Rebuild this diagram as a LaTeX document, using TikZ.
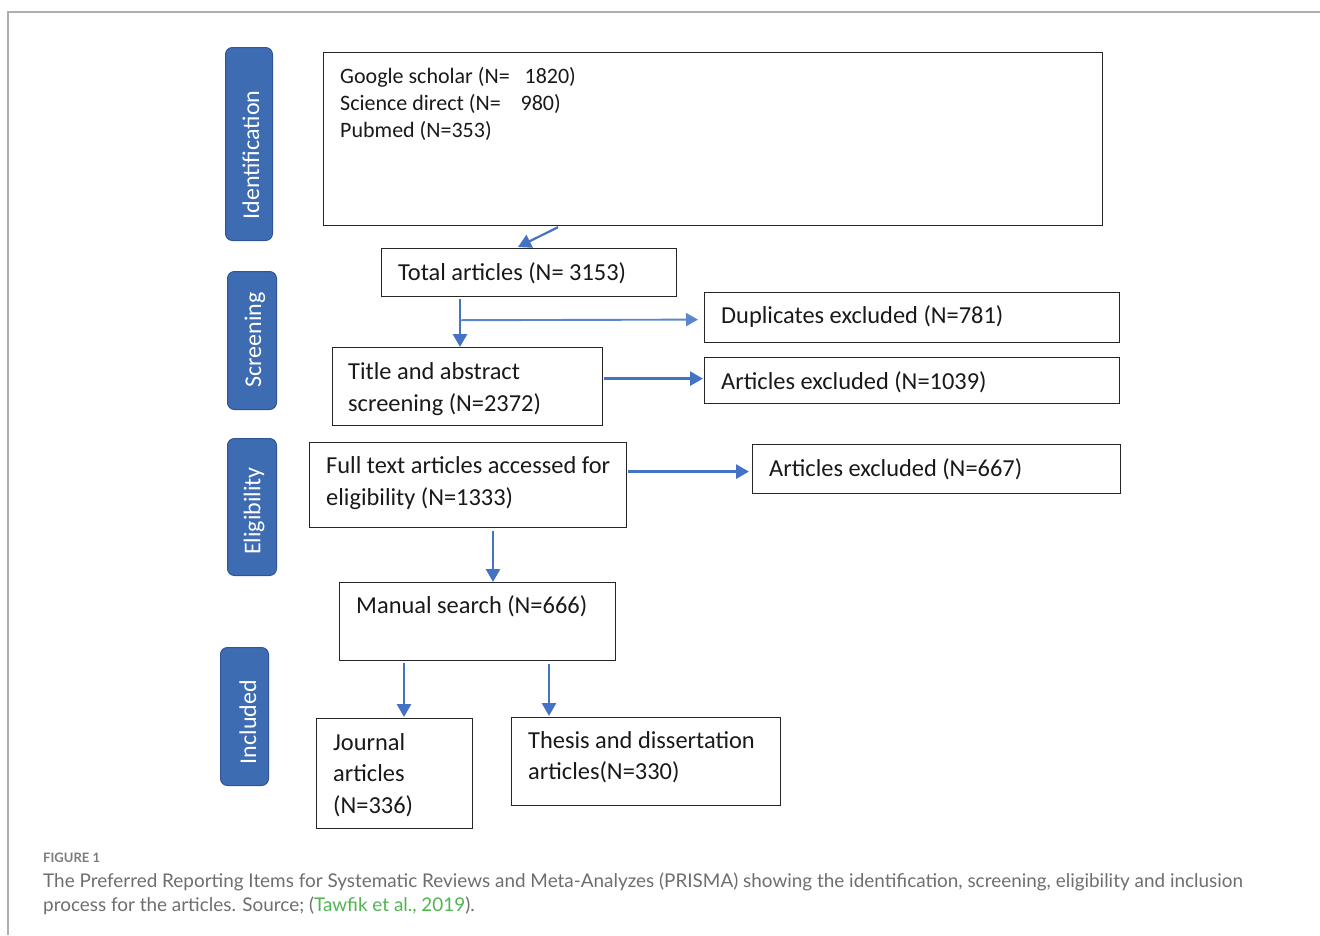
\documentclass[tikz,border=0pt]{standalone}
\usepackage{fontspec}
\setmainfont{Carlito}
\newfontfamily\capfont{Lato}
\usetikzlibrary{arrows.meta,calc}
\definecolor{sideblue}{RGB}{62,108,178}
\definecolor{sideedge}{RGB}{47,85,151}
\definecolor{arrblue}{RGB}{68,114,196}
\definecolor{arrlight}{RGB}{90,134,204}
\definecolor{framegray}{RGB}{175,175,175}
\definecolor{capgray}{RGB}{110,110,110}
\definecolor{linkgreen}{RGB}{80,180,80}
\begin{document}
\begin{tikzpicture}[x=1pt,y=-1pt,
  box/.style={draw=black!85, line width=1.2pt, inner sep=0pt, anchor=north west},
  side/.style={fill=sideblue, draw=sideedge, line width=1pt, rounded corners=7pt, inner sep=0pt, anchor=north west},
  sidetxt/.style={text=white, rotate=90, font=\fontsize{24}{28}\selectfont, inner sep=0pt},
  txt/.style={anchor=base west, inner sep=0pt, font=\fontsize{24.4}{32}\selectfont, text=black!90},
  gtxt/.style={anchor=base west, inner sep=0pt, font=\fontsize{22}{27}\selectfont, text=black!90},
  arr/.style={draw=arrblue, line width=2.8pt, -{Triangle[length=13pt,width=14pt]}},
  arrthin/.style={draw=arrlight, line width=1.9pt, -{Triangle[length=12pt,width=13pt]}},
  captxt/.style={anchor=base west, inner sep=0pt, text=capgray},
]
\useasboundingbox (0,0) rectangle (1320,935);
% outer frame
\draw[framegray, line width=1.5pt] (1320,12) -- (8,12) -- (8,935);

% side labels
\node[side, minimum width=47pt, minimum height=193pt] (s1) at (225,47) {};
\node[sidetxt] (s1t) at (251,155) {Identification};
\node[side, minimum width=49pt, minimum height=138pt] (s2) at (227,271) {};
\node[sidetxt] (s2t) at (255,340) {Screening};
\node[side, minimum width=49pt, minimum height=137pt] (s3) at (227,438) {};
\node[sidetxt] (s3t) at (254,511) {Eligibility};
\node[side, minimum width=48pt, minimum height=138pt] (s4) at (220,647) {};
\node[sidetxt] (s4t) at (248,722) {Included};

% boxes
\node[box, minimum width=779pt, minimum height=173pt] (g) at (323,52) {};
\node[gtxt] (g1) at (340,83) {Google scholar (N=\ \ \ 1820)};
\node[gtxt] (g2) at (340,110) {Science direct (N=\ \ \ \ 980)};
\node[gtxt] (g3) at (340,137) {Pubmed (N=353)};

\node[box, minimum width=295pt, minimum height=48pt] (tot) at (381,248) {};
\node[txt] (tott) at (398,280.5) {Total articles (N= 3153)};

\node[box, minimum width=415pt, minimum height=50pt] (dup) at (704,292) {};
\node[txt] (dupt) at (721,323) {Duplicates excluded (N=781)};

\node[box, minimum width=270pt, minimum height=78pt] (ti) at (332,347) {};
\node[txt] (ti1) at (348,379) {Title and abstract};
\node[txt] (ti2) at (348,411) {screening (N=2372)};

\node[box, minimum width=415pt, minimum height=46pt] (a1) at (704,357) {};
\node[txt] (a1t) at (721,389) {Articles excluded (N=1039)};

\node[box, minimum width=317pt, minimum height=85pt] (full) at (309,442) {};
\node[txt] (full1) at (326,473) {Full text articles accessed for};
\node[txt] (full2) at (326,505) {eligibility (N=1333)};

\node[box, minimum width=368pt, minimum height=49pt] (a2) at (752,444) {};
\node[txt] (a2t) at (769,476) {Articles excluded (N=667)};

\node[box, minimum width=276pt, minimum height=78pt] (man) at (339,582) {};
\node[txt] (mant) at (356,613) {Manual search (N=666)};

\node[box, minimum width=156pt, minimum height=110pt] (jou) at (316,718) {};
\node[txt] (jou1) at (333,750) {Journal};
\node[txt] (jou2) at (333,781) {articles};
\node[txt] (jou3) at (333,813) {(N=336)};

\node[box, minimum width=269pt, minimum height=88pt] (the) at (511,717) {};
\node[txt] (the1) at (528,748) {Thesis and dissertation};
\node[txt] (the2) at (528,779) {articles(N=330)};

% connectors
\coordinate (d1) at ($(g.south west)+(235,1)$);
\coordinate (d2) at ($(tot.north west)+(137,-1)$);
\draw[arr, line width=2.2pt] (d1) -- (d2);

\draw[arr] ($(tot.south west)+(79,2)$) -- ($(ti.north west)+(128,0)$);
\coordinate (br) at ($(tot.south west)+(79,23)$);
\draw[arrthin] (br) -- ($(dup.west)+(-6,2)$);

\draw[arr] ($(ti.east)+(1,-8)$) -- ($(a1.west)+(-1,-2)$);
\draw[arr] ($(full.east)+(1,-13.5)$) -- ($(a2.west)+(-3,2.5)$);
\draw[arr] ($(full.south west)+(184,3)$) -- ($(man.north west)+(154,0)$);
\draw[arr] ($(man.south west)+(65,2)$) -- ($(jou.north west)+(88,-1)$);
\draw[arr] ($(man.south west)+(210,3)$) -- ($(the.north west)+(38,-1)$);

% caption
\node[captxt, font=\capfont\bfseries\fontsize{13}{16}\selectfont, text=capgray!90] (figl) at (43,862) {FIGURE 1};
\node[captxt, font=\capfont\fontsize{18.9}{24}\selectfont] (cap1) at (43,887) {The Preferred Reporting Items for Systematic Reviews and Meta-Analyzes (PRISMA) showing the identification, screening, eligibility and inclusion};
\node[captxt, font=\capfont\fontsize{18.9}{24}\selectfont] (cap2) at (43,911) {process for the articles. Source; (\textcolor{linkgreen}{Tawfik et al., 2019}).};
\end{tikzpicture}
\end{document}
